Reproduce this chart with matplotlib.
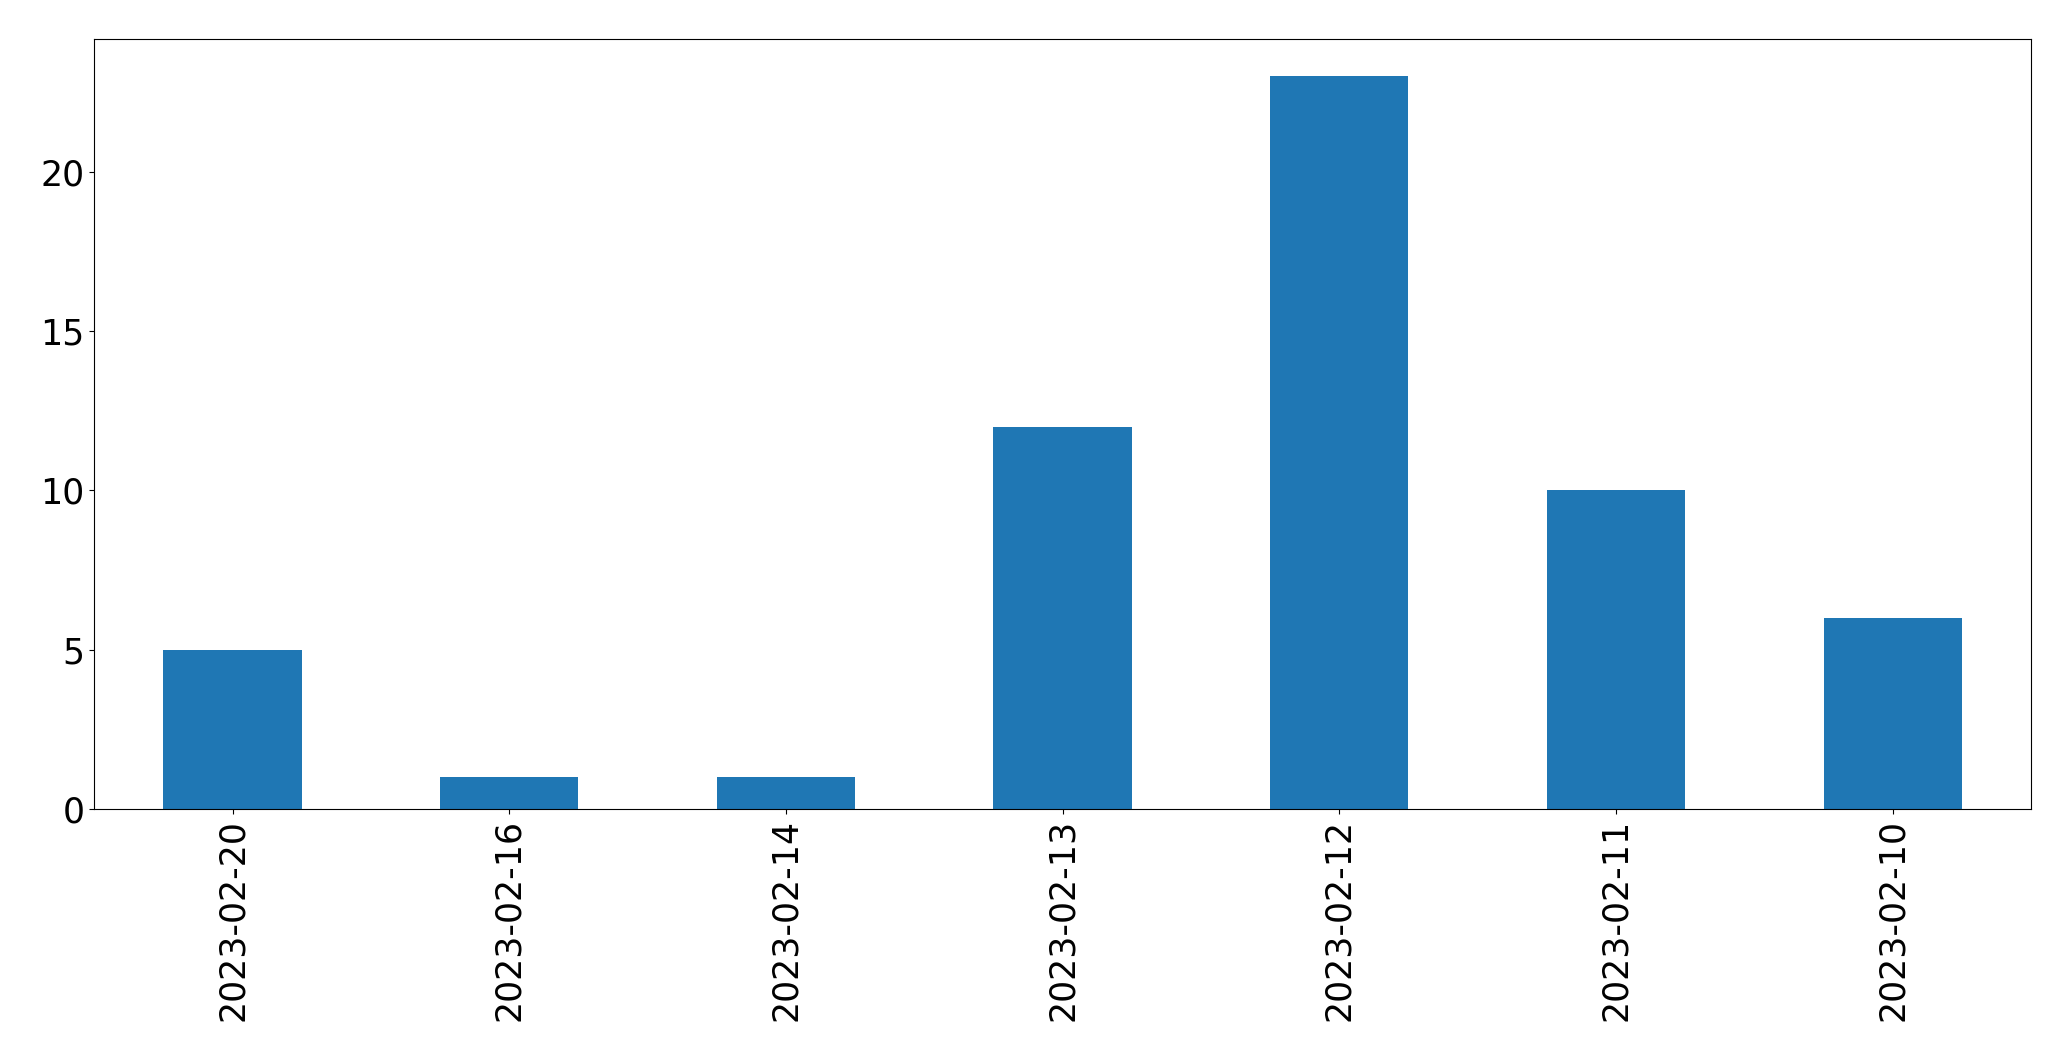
import matplotlib
matplotlib.use("Agg")
import matplotlib.pyplot as plt

dates = ['2023-02-20', '2023-02-16', '2023-02-14', '2023-02-13',
         '2023-02-12', '2023-02-11', '2023-02-10']
counts = [5, 1, 1, 12, 23, 10, 6]

fig, ax = plt.subplots(figsize=(20.71, 10.61), dpi=100)
fig.subplots_adjust(left=0.0455, right=0.9807, top=0.963, bottom=0.2375)

x = range(len(dates))
ax.bar(x, counts, width=0.5, color='#1f77b4')
ax.set_xlim(-0.5, len(dates) - 0.5)
ax.set_xticks(list(x))
ax.set_xticklabels(dates, rotation=90)
ax.tick_params(labelsize=25)

fig.savefig('out.png', dpi=100)
